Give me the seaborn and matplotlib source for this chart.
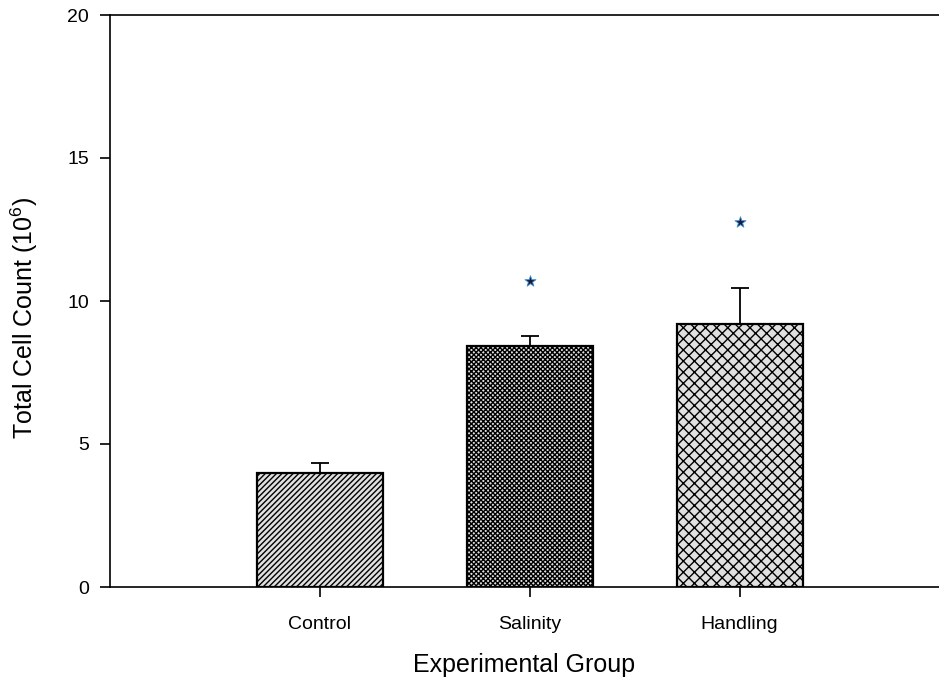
import matplotlib
matplotlib.use("Agg")
import matplotlib.pyplot as plt
import seaborn as sns
import pandas as pd

groups = ["Control", "Salinity", "Handling"]
means = [4.0, 8.43, 9.18]
sem = [0.35, 0.33, 1.27]
signif_y = [None, 10.7, 12.75]
hatches = ["//////", "xxxxxxx", "xxx"]
yticks = [0, 5, 10, 15, 20]

sns.set_style("white")
plt.rcParams["font.family"] = ["Liberation Sans", "DejaVu Sans"]
plt.rcParams["mathtext.default"] = "regular"
plt.rcParams["hatch.linewidth"] = 1.0

df = pd.DataFrame({"group": groups, "count": means})

fig = plt.figure(figsize=(9.39, 6.91), dpi=100)
ax = fig.add_axes([110 / 939, 1 - 587 / 691, (939 - 110) / 939, (587 - 15) / 691])

sns.barplot(data=df, x="group", y="count", order=groups, color="#e0e0e0",
            width=0.6, edgecolor="black", linewidth=1.6, errorbar=None,
            saturation=1, ax=ax)
for patch, h in zip(ax.patches, hatches):
    patch.set_hatch(h)
    patch.set_edgecolor("black")
    patch.set_facecolor("#e0e0e0")

xs = list(range(len(groups)))
ax.errorbar(xs, means, yerr=[[0] * len(sem), sem], fmt="none", ecolor="black",
            elinewidth=1.3, capsize=6.5, capthick=1.3, zorder=5)

sx = [x for x, y in zip(xs, signif_y) if y is not None]
sy = [y for y in signif_y if y is not None]
ax.scatter(sx, sy, marker="*", s=70, color="#1a1a40", edgecolors="#3a8fd0",
           linewidths=0.6, zorder=6)

ax.set_xlim(-1, 2.95)
ax.set_ylim(0, 20)
ax.set_yticks(yticks)
ax.set_yticklabels([str(t) for t in yticks])

for side in ["left", "bottom", "top"]:
    ax.spines[side].set_visible(True)
    ax.spines[side].set_color("black")
    ax.spines[side].set_linewidth(1.2)
ax.spines["right"].set_visible(False)

ax.tick_params(axis="both", direction="out", length=7, width=1.2, color="black",
               labelsize=14, labelcolor="black", left=True, bottom=True)
ax.tick_params(axis="x", pad=14)
ax.tick_params(axis="y", pad=8)

ax.set_xlabel("Experimental Group", fontsize=18, labelpad=14, color="black")
ax.set_ylabel("Total Cell Count (10$^6$)", fontsize=18, color="black")
ax.yaxis.set_label_coords(-0.0845, 0.47)

fig.savefig("out.png", dpi=100, facecolor="white")
